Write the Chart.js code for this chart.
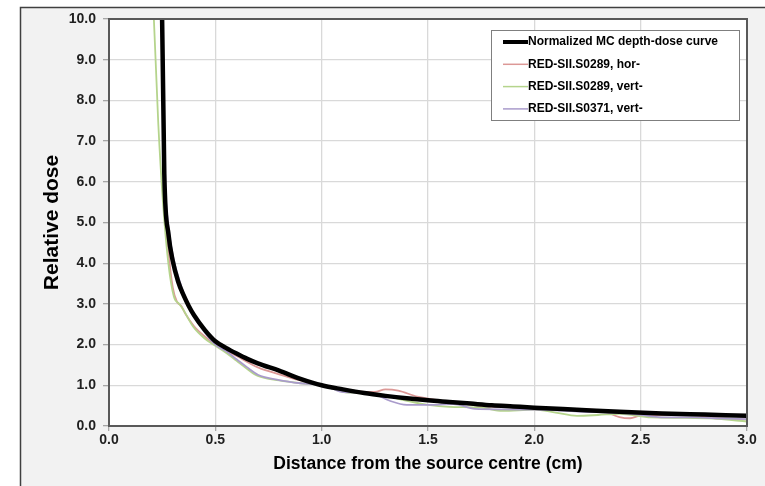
<!DOCTYPE html>
<html>
<head>
<meta charset="utf-8">
<script src="https://cdn.jsdelivr.net/npm/chart.js@4.4.1/dist/chart.umd.min.js"></script>
<style>
  html, body { margin: 0; padding: 0; background: #fff; }
  #wrap { width: 765px; height: 486px; }
</style>
</head>
<body>
<div id="wrap"><canvas id="doseChart" width="765" height="486"></canvas></div>
<script>
// depth-dose data (x in cm, relative dose)
let mcX = [0.24, 0.26, 0.28, 0.30, 0.325, 0.35, 0.375, 0.40, 0.45, 0.50, 0.55, 0.60, 0.65, 0.70, 0.80, 0.90, 1.00, 1.10, 1.20, 1.30, 1.40, 1.50, 1.60, 1.70, 1.80, 1.90, 2.00, 2.20, 2.40, 2.60, 2.80, 3.00];
let mcY = [14.0, 6.2, 4.7, 4.05, 3.55, 3.22, 2.95, 2.72, 2.36, 2.08, 1.92, 1.78, 1.65, 1.54, 1.36, 1.16, 1.00, 0.90, 0.81, 0.74, 0.68, 0.63, 0.59, 0.55, 0.51, 0.48, 0.45, 0.40, 0.35, 0.31, 0.28, 0.25];

let horX = [0.24, 0.26, 0.28, 0.30, 0.32, 0.34, 0.36, 0.40, 0.45, 0.50, 0.55, 0.60, 0.70, 0.80, 0.90, 1.00, 1.10, 1.20, 1.25, 1.30, 1.36, 1.45, 1.60, 1.75, 1.90, 2.00, 2.10, 2.25, 2.32, 2.40, 2.45, 2.50, 2.60, 2.75, 2.85, 3.00];
let horY = [12.5, 5.9, 4.3, 3.4, 3.05, 2.95, 2.75, 2.45, 2.2, 2.0, 1.86, 1.72, 1.44, 1.27, 1.12, 1.00, 0.91, 0.84, 0.84, 0.90, 0.87, 0.72, 0.60, 0.49, 0.46, 0.41, 0.40, 0.41, 0.37, 0.22, 0.19, 0.26, 0.27, 0.27, 0.19, 0.16];

let vertX = [0.205, 0.211, 0.232, 0.253, 0.279, 0.305, 0.33, 0.35, 0.396, 0.45, 0.49, 0.55, 0.60, 0.65, 0.70, 0.80, 0.90, 1.00, 1.10, 1.20, 1.30, 1.38, 1.50, 1.60, 1.75, 1.85, 2.00, 2.10, 2.20, 2.30, 2.40, 2.55, 2.70, 2.85, 3.00];
let vertY = [11.0, 10.0, 7.4, 5.55, 4.0, 3.18, 3.0, 2.85, 2.44, 2.15, 2.0, 1.80, 1.60, 1.40, 1.23, 1.12, 1.05, 1.00, 0.84, 0.80, 0.75, 0.64, 0.52, 0.47, 0.45, 0.37, 0.40, 0.33, 0.25, 0.27, 0.30, 0.21, 0.20, 0.18, 0.11];

let s371X = [0.24, 0.26, 0.28, 0.30, 0.33, 0.36, 0.40, 0.45, 0.50, 0.55, 0.60, 0.65, 0.70, 0.80, 0.90, 1.00, 1.05, 1.10, 1.20, 1.26, 1.32, 1.40, 1.52, 1.62, 1.72, 1.85, 2.00, 2.12, 2.23, 2.35, 2.46, 2.55, 2.62, 2.75, 2.85, 3.00];
let s371Y = [12.0, 6.4, 4.9, 4.2, 3.6, 3.15, 2.7, 2.3, 2.0, 1.84, 1.64, 1.44, 1.26, 1.13, 1.05, 1.00, 0.92, 0.83, 0.82, 0.76, 0.62, 0.52, 0.52, 0.54, 0.42, 0.41, 0.40, 0.38, 0.35, 0.33, 0.30, 0.24, 0.21, 0.21, 0.19, 0.17];

let seriesNames = ['Normalized MC depth-dose curve', 'RED-SII.S0289, hor-', 'RED-SII.S0289, vert-', 'RED-SII.S0371, vert-'];
let seriesColors = ['#000000', '#dc9896', '#b5d48c', '#a99bcb'];
let seriesWidths = [4.5, 1.8, 1.8, 1.8];

let xTicks = [0, 0.5, 1.0, 1.5, 2.0, 2.5, 3.0];
let yTicks = [0, 1, 2, 3, 4, 5, 6, 7, 8, 9, 10];

const FONT = "'Liberation Sans', Arial, sans-serif";

function pts(xs, ys) {
    let out = [];
    for (let i = 0; i < xs.length; ++i) out.push({x: xs[i], y: ys[i]});
    return out;
}

let allData = [pts(mcX, mcY), pts(horX, horY), pts(vertX, vertY), pts(s371X, s371Y)];
let datasets = [];
// thin measured curves underneath, MC curve on top
for (let i = 0; i < 4; ++i) {
    datasets.push({
        label: seriesNames[i],
        data: allData[i],
        borderColor: seriesColors[i],
        backgroundColor: seriesColors[i],
        borderWidth: seriesWidths[i],
        pointRadius: 0,
        showLine: true,
        cubicInterpolationMode: 'monotone',
        order: i == 0 ? 0 : 4 - i
    });
}

// outer frame + white plot area
const framePlugin = {
    id: 'frame',
    beforeDraw(chart) {
        const c = chart.ctx, a = chart.chartArea;
        c.save();
        c.fillStyle = '#ffffff';
        c.fillRect(0, 0, chart.width, chart.height);
        c.fillStyle = '#f2f2f2';
        c.fillRect(20, 7, chart.width - 20, chart.height - 7);
        c.strokeStyle = '#404040';
        c.lineWidth = 1.5;
        c.beginPath();
        c.moveTo(20.5, chart.height);
        c.lineTo(20.5, 7.5);
        c.lineTo(chart.width, 7.5);
        c.stroke();
        c.fillStyle = '#ffffff';
        c.fillRect(a.left, a.top, a.right - a.left, a.bottom - a.top);
        c.restore();
    },
    afterDatasetsDraw(chart) {
        const c = chart.ctx, a = chart.chartArea;
        c.save();
        c.strokeStyle = '#595959';
        c.lineWidth = 2;
        c.strokeRect(a.left, a.top, a.right - a.left, a.bottom - a.top);
        c.restore();
    }
};

// legend box inside the plot, top right
const legendBox = {
    id: 'legendBox',
    afterDraw(chart) {
        const c = chart.ctx;
        const bx = 491, by = 30, bw = 248, bh = 90;
        c.save();
        c.fillStyle = '#ffffff';
        c.fillRect(bx, by, bw, bh);
        c.strokeStyle = '#7f7f7f';
        c.lineWidth = 1;
        c.strokeRect(bx + 0.5, by + 0.5, bw, bh);
        c.font = 'bold 12px ' + FONT;
        c.textBaseline = 'middle';
        chart.data.datasets.forEach(function (ds, i) {
            const yy = by + 12 + i * 22.3;
            c.strokeStyle = ds.borderColor;
            c.lineWidth = i == 0 ? 4 : 1.5;
            c.beginPath();
            c.moveTo(503, yy);
            c.lineTo(528, yy);
            c.stroke();
            c.fillStyle = '#000000';
            c.fillText(ds.label, 528, yy);
        });
        c.restore();
    }
};

new Chart('doseChart', {
    type: 'scatter',
    data: {datasets: datasets},
    plugins: [framePlugin, legendBox],
    options: {
        responsive: false,
        animation: false,
        layout: {padding: {left: 0, right: 18, top: 19, bottom: 0}},
        plugins: {legend: {display: false}, tooltip: {enabled: false}},
        scales: {
            x: {
                type: 'linear',
                min: 0,
                max: 3,
                afterFit(s) { s.height = 60; },
                afterBuildTicks(s) { s.ticks = xTicks.map(v => ({value: v})); },
                border: {display: false},
                grid: {color: '#d9d9d9', lineWidth: 1.3, tickLength: 5, tickColor: '#a6a6a6'},
                ticks: {
                    color: '#1f1f1f',
                    padding: 1,
                    maxRotation: 0,
                    font: {family: FONT, size: 14, weight: 'bold'},
                    callback: v => v.toFixed(1)
                },
                title: {
                    display: true,
                    text: 'Distance from the source centre (cm)',
                    color: '#000000',
                    font: {family: FONT, size: 17.5, weight: 'bold'},
                    padding: {top: 0, bottom: 11}
                }
            },
            y: {
                type: 'linear',
                min: 0,
                max: 10,
                afterFit(s) { s.width = 109; },
                afterBuildTicks(s) { s.ticks = yTicks.map(v => ({value: v})); },
                border: {display: false},
                grid: {color: '#d9d9d9', lineWidth: 1.3, tickLength: 6, tickColor: '#a6a6a6'},
                ticks: {
                    color: '#1f1f1f',
                    padding: 7,
                    font: {family: FONT, size: 14, weight: 'bold'},
                    callback: v => v.toFixed(1)
                },
                title: {
                    display: true,
                    text: 'Relative dose',
                    color: '#000000',
                    font: {family: FONT, size: 21, weight: 'bold'},
                    padding: {top: 40, bottom: 0}
                }
            }
        }
    }
});
</script>
</body>
</html>
